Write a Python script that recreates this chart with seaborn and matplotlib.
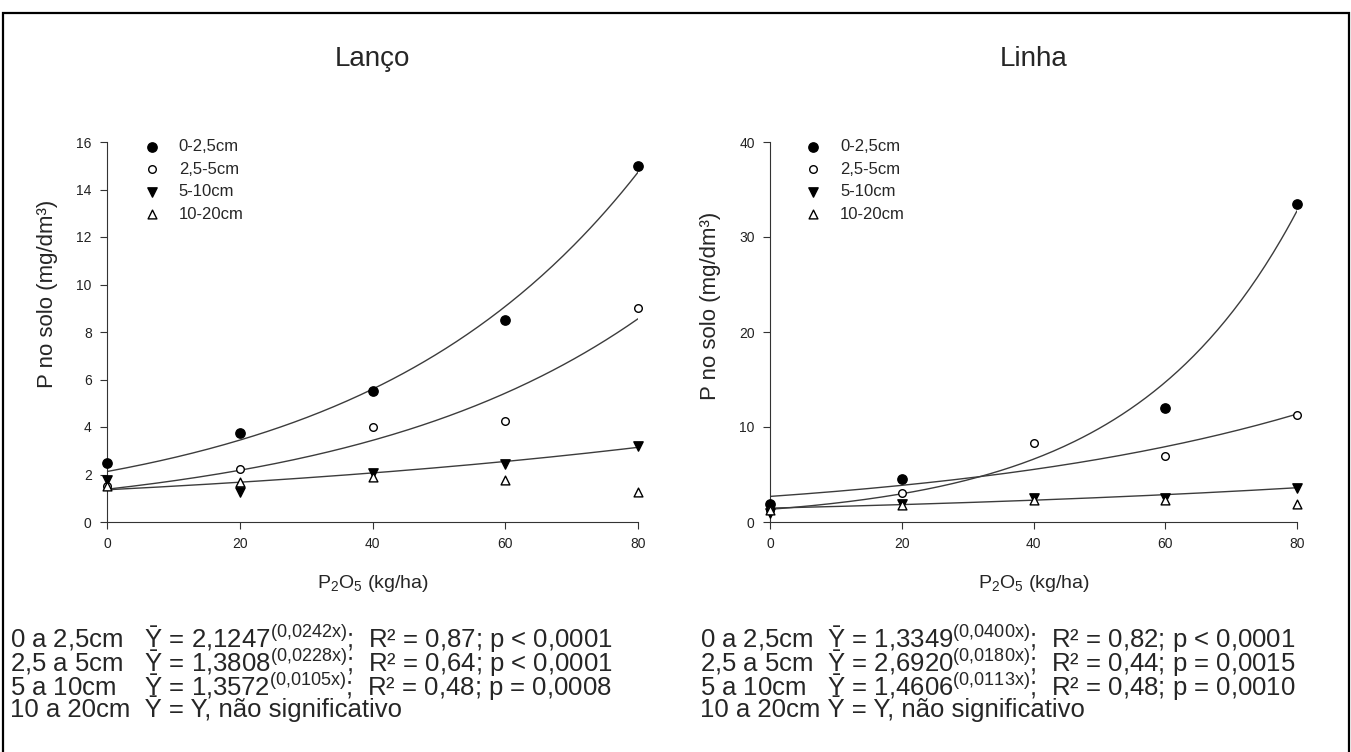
import numpy as np
import pandas as pd
import matplotlib
matplotlib.use("Agg")
import matplotlib.pyplot as plt
import seaborn as sns
from matplotlib.patches import Rectangle

doses = [0, 20, 40, 60, 80]
camadas = ["0-2,5cm", "2,5-5cm", "5-10cm", "10-20cm"]

# Lanço
lanco_0_25 = [2.5, 3.75, 5.5, 8.5, 15.0]
lanco_25_5 = [1.5, 2.25, 4.0, 4.25, 9.0]
lanco_5_10 = [1.75, 1.25, 2.05, 2.45, 3.2]
lanco_10_20 = [1.5, 1.7, 1.9, 1.75, 1.25]

# Linha
linha_0_25 = [1.9, 4.5, np.nan, 12.0, 33.5]
linha_25_5 = [1.3, 3.1, 8.3, 7.0, 11.3]
linha_5_10 = [0.9, 1.9, 2.5, 2.5, 3.6]
linha_10_20 = [1.3, 1.8, 2.3, 2.3, 1.9]

# coeficientes das curvas y = a * exp(b * x)
lanco_a = [2.1247, 1.3808, 1.3572]
lanco_b = [0.0242, 0.0228, 0.0105]
linha_a = [1.3349, 2.6920, 1.4606]
linha_b = [0.0400, 0.0180, 0.0113]

lanco_eq = [
    r"0 a 2,5cm   Ȳ = 2,1247$^{\mathrm{(0{,}0242x)}}$;  R² = 0,87; p < 0,0001",
    r"2,5 a 5cm   Ȳ = 1,3808$^{\mathrm{(0{,}0228x)}}$;  R² = 0,64; p < 0,0001",
    r"5 a 10cm    Ȳ = 1,3572$^{\mathrm{(0{,}0105x)}}$;  R² = 0,48; p = 0,0008",
    "10 a 20cm  Ȳ = Y, não significativo",
]
linha_eq = [
    r"0 a 2,5cm  Ȳ = 1,3349$^{\mathrm{(0{,}0400x)}}$;  R² = 0,82; p < 0,0001",
    r"2,5 a 5cm  Ȳ = 2,6920$^{\mathrm{(0{,}0180x)}}$;  R² = 0,44; p = 0,0015",
    r"5 a 10cm   Ȳ = 1,4606$^{\mathrm{(0{,}0113x)}}$;  R² = 0,48; p = 0,0010",
    "10 a 20cm Ȳ = Y, não significativo",
]

sns.set_style("ticks")
plt.rcParams["font.family"] = ["Liberation Sans", "DejaVu Sans"]
plt.rcParams["mathtext.fontset"] = "custom"
plt.rcParams["mathtext.rm"] = "Liberation Sans"
plt.rcParams["mathtext.it"] = "Liberation Sans:italic"
plt.rcParams["mathtext.bf"] = "Liberation Sans:bold"

estilos = {
    "0-2,5cm": dict(marker="o", s=45, color="black", edgecolor="black"),
    "2,5-5cm": dict(marker="o", s=30, color="white", edgecolor="black"),
    "5-10cm": dict(marker="v", s=45, color="black", edgecolor="black"),
    "10-20cm": dict(marker="^", s=40, color="white", edgecolor="black"),
}


def painel(ax, series, a_list, b_list, ymax, ystep, titulo, ylab_y, leg_x):
    df = pd.DataFrame({
        "dose": doses * 4,
        "P": sum(series, []),
        "camada": [c for c in camadas for _ in doses],
    })
    xs = np.linspace(0, 80, 200)
    for a, b in zip(a_list, b_list):
        sns.lineplot(x=xs, y=a * np.exp(b * xs), ax=ax, color="#3c3c3c",
                     lw=1.0, zorder=2)
    for c in camadas:
        sub = df[df["camada"] == c]
        sns.scatterplot(data=sub, x="dose", y="P", ax=ax, label=c,
                        linewidth=1.0, zorder=3, clip_on=False, **estilos[c])
    ax.set_xlim(0, 80)
    ax.set_ylim(0, ymax)
    ax.set_xticks(doses)
    ax.set_yticks(np.arange(0, ymax + 0.1, ystep))
    sns.despine(ax=ax)
    ax.spines["left"].set_color("#333333")
    ax.spines["bottom"].set_color("#333333")
    ax.tick_params(direction="out", length=5, width=0.8, colors="#333333",
                   labelsize=10, pad=6)
    for lab in ax.get_xticklabels() + ax.get_yticklabels():
        lab.set_color("#222222")
    ax.set_xlabel("P$_\\mathrm{2}$O$_\\mathrm{5}$ (kg/ha)", fontsize=14,
                  labelpad=16)
    ax.set_ylabel("P no solo (mg/dm³)", fontsize=16)
    ax.yaxis.set_label_coords(-0.093, ylab_y)
    ax.set_title(titulo, fontsize=20, pad=55)
    ax.legend(loc="upper left", bbox_to_anchor=(leg_x, 1.025),
              frameon=False, fontsize=12, handletextpad=0.6,
              labelspacing=0.45, borderaxespad=0)


fig = plt.figure(figsize=(13.51, 7.52), dpi=100)
ax1 = fig.add_axes([107 / 1351, 1 - 522 / 752, 531 / 1351, 380 / 752])
ax2 = fig.add_axes([770 / 1351, 1 - 522 / 752, 527 / 1351, 380 / 752])

painel(ax1, [lanco_0_25, lanco_25_5, lanco_5_10, lanco_10_20],
       lanco_a, lanco_b, 16, 2, "Lanço", 0.6, 0.041)
painel(ax2, [linha_0_25, linha_25_5, linha_5_10, linha_10_20],
       linha_a, linha_b, 40, 10, "Linha", 0.57, 0.038)

# equações em bloco de texto único por painel
for eqs, x0 in [(lanco_eq, 10), (linha_eq, 700)]:
    fig.text(x0 / 1351, 1 - 623 / 752, "\n".join(eqs), fontsize=18.5,
             va="top", ha="left", linespacing=0.67)

fig.patches.append(Rectangle((3 / 1351, -0.05), 1346 / 1351, 1.05 - 13 / 752,
                             transform=fig.transFigure, fill=False,
                             edgecolor="black", lw=1.6))

fig.savefig("out.png", dpi=100)
